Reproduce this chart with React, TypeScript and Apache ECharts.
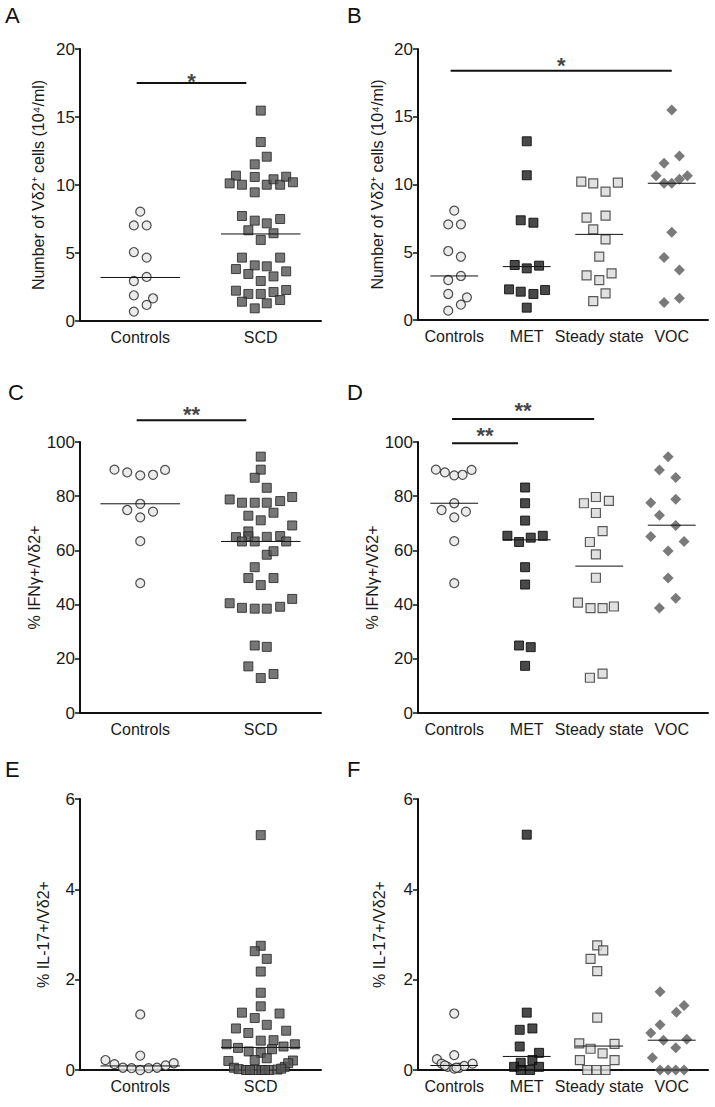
import React, { useEffect, useRef } from 'react';
import * as echarts from 'echarts';

// ---------- categories ----------
const catsTwo = ['Controls', 'SCD'];
const catsFour = ['Controls', 'MET', 'Steady state', 'VOC'];

// ---------- Panel A : number of Vδ2+ cells ----------
const aControls = [8.04, 7.03, 7.03, 5.07, 4.66, 3.24, 2.94, 1.89, 1.67, 1.18, 0.69];
const aControlsJit = [0, -0.053, 0.053, -0.053, 0.053, 0.053, -0.053, -0.053, 0.106, 0.053, -0.053];
const aSCD = [15.47, 13.16, 12.08, 11.52, 10.69, 10.12, 10.02, 10.59, 9.46, 10.02, 10.42, 10.02, 10.61, 10.2,
  7.72, 7.38, 7.18, 7.5, 6.67, 6.45, 5.96,
  4.66, 4.66, 4.09, 4.02, 3.82, 3.46, 2.94, 3.28, 3.65,
  2.23, 1.99, 1.99, 2.13, 2.28, 1.42, 0.93, 1.3, 1.54];
const aSCDJit = [0, 0, 0.05, -0.05, -0.206, -0.258, -0.156, -0.05, -0.05, 0.05, 0.106, 0.161, 0.211, 0.267,
  -0.156, -0.05, 0.05, 0.161, -0.103, 0.106, 0,
  -0.156, 0.161, -0.05, 0.05, -0.206, -0.103, 0, 0.106, 0.211,
  -0.206, -0.103, 0, 0.106, 0.211, -0.156, -0.05, 0.05, 0.161];
const aMedians = [3.2, 6.4];

// ---------- Panel B ----------
const bControls = [8.07, 7.06, 7.06, 5.09, 4.67, 3.25, 2.95, 1.92, 1.67, 1.13, 0.69];
const bControlsJit = [0, -0.083, 0.092, -0.083, 0.092, 0.092, -0.083, -0.083, 0.175, 0.092, -0.083];
const bMET = [13.19, 10.68, 7.36, 7.18, 4.06, 3.81, 4.01, 2.26, 2.09, 1.92, 2.21, 0.91];
const bMETJit = [0, 0, -0.083, 0.092, -0.166, 0, 0.17, -0.244, -0.083, 0.092, 0.253, 0];
const bSteady = [10.21, 10.09, 10.14, 9.47, 7.55, 7.7, 6.69, 5.95, 4.67, 3.3, 2.95, 3.44, 1.97, 1.4];
const bSteadyJit = [-0.248, -0.083, 0.257, 0.087, -0.175, 0.087, -0.083, 0.087, 0, -0.175, 0, 0.17, 0.087, -0.083];
const bVOC = [15.5, 11.56, 12.1, 10.65, 10.09, 10.09, 10.38, 10.65, 6.47, 4.62, 3.69, 1.3, 1.6];
const bVOCJit = [0, -0.106, 0.106, -0.216, -0.106, 0, 0.106, 0.216, 0, -0.106, 0.106, -0.106, 0.106];
const bMedians = [3.25, 3.94, 6.32, 10.09];

// ---------- Panel C : % IFNγ+ ----------
const cControls = [89.8, 88.8, 87.7, 87.9, 89.7, 77.2, 74.9, 74.3, 72.2, 63.4, 47.9];
const cControlsJit = [-0.214, -0.108, 0, 0.106, 0.206, 0, -0.108, 0.106, 0, 0, 0];
const cSCD = [94.6, 89.8, 86.8, 83.1,
  78.8, 77.6, 77.6, 77.6, 78.2, 79.7,
  72.8, 71.1, 73.9, 69.2,
  64.9, 67.0, 65.2, 63.3, 63.3, 65.0, 65.3, 63.3,
  58.4, 59.7,
  53.8, 49.8, 49.8, 47.2,
  40.5, 38.8, 38.5, 38.5, 39.2, 42.1,
  24.9, 24.4, 17.2, 12.9, 14.4];
const cSCDJit = [0, 0, -0.05, 0.05,
  -0.258, -0.156, -0.05, 0.05, 0.161, 0.261,
  -0.103, 0, 0.106, 0.261,
  -0.206, -0.103, -0.103, -0.156, -0.05, 0.05, 0.161, 0.211,
  0.05, 0.106,
  -0.05, -0.103, 0.106, 0,
  -0.258, -0.156, -0.05, 0.05, 0.161, 0.261,
  -0.05, 0.05, -0.103, 0, 0.106];
const cMedians = [77.2, 63.3];

// ---------- Panel D ----------
const dControls = [89.8, 88.8, 87.7, 87.9, 89.7, 77.4, 74.9, 74.3, 72.2, 63.4, 47.9];
const dControlsJit = [-0.253, -0.129, 0, 0.115, 0.239, 0, -0.175, 0.161, 0, 0, 0];
const dMET = [83.2, 77.4, 71.0, 65.4, 63.1, 64.7, 65.4, 53.8, 47.4, 24.9, 24.3, 17.4];
const dMETJit = [-0.023, -0.023, -0.023, -0.267, -0.106, 0.055, 0.221, -0.023, -0.023, -0.106, 0.055, -0.023];
const dSteady = [77.4, 79.7, 78.3, 73.8, 67.1, 63.1, 58.5, 49.9, 40.7, 38.7, 38.7, 39.3, 13.0, 14.5];
const dSteadyJit = [-0.211, -0.046, 0.133, -0.046, 0.046, -0.129, -0.046, -0.046, -0.294, -0.12, 0.046, 0.202, -0.129, 0.046];
const dVOC = [94.6, 89.7, 86.9, 77.6, 78.9, 73.0, 69.2, 65.1, 63.3, 59.8, 49.8, 42.3, 38.7];
const dVOCJit = [-0.05, -0.17, 0.055, -0.29, 0.055, -0.17, 0.055, -0.29, 0.17, -0.05, -0.05, 0.055, -0.17];
const dMedians = [77.4, 63.9, 54.2, 69.3];

// ---------- Panel E : % IL-17+ ----------
const eControls = [1.23, 0.32, 0.22, 0.13, 0.05, 0.04, 0.0, 0.04, 0.05, 0.1, 0.15];
const eControlsJit = [0, 0, -0.289, -0.214, -0.144, -0.072, 0, 0.069, 0.139, 0.211, 0.278];
const eSCD = [5.2, 2.75, 2.63, 2.46, 2.18, 1.71, 1.41, 1.27, 1.15, 1.25,
  0.92, 1.0, 0.82, 0.87, 0.65, 0.66,
  0.57, 0.49, 0.41, 0.38, 0.46, 0.52, 0.57,
  0.2, 0.22, 0.26, 0.21,
  0.05, 0.02, 0.0, 0.0, 0.0, 0.0, 0.01, 0.07, 0.15,
  0.0, 0.0, 0.03];
const eSCDJit = [0, 0, -0.05, 0.05, 0, 0, 0, -0.156, -0.05, 0.156,
  -0.206, 0.05, -0.103, 0.211, 0, 0.106,
  -0.283, -0.189, -0.1, 0, 0.094, 0.189, 0.283,
  -0.269, -0.05, 0.05, 0.267,
  -0.222, -0.183, -0.122, -0.05, 0.006, 0.067, 0.139, 0.2, 0.228,
  -0.09, 0.035, 0.17];
const eMedians = [0.09, 0.5];

// ---------- Panel F ----------
const fControls = [1.25, 0.33, 0.24, 0.14, 0.07, 0.03, 0.05, 0.09, 0.14, 0.1, 0.05];
const fControlsJit = [0, 0, -0.239, -0.175, -0.092, 0, 0.069, 0.138, 0.253, -0.129, 0.03];
const fMET = [5.21, 1.27, 0.89, 0.92, 0.52, 0.38, 0.16, 0.22, 0.07, 0.0, 0.0, 0.07];
const fMETJit = [0, 0, -0.097, 0.078, -0.097, 0.17, -0.083, 0.078, -0.175, -0.083, 0.046, 0.17];
const fSteady = [2.76, 2.65, 2.46, 2.19, 1.16, 0.59, 0.47, 0.58, 0.37, 0.22, 0.22, 0.0, 0.0, 0.0];
const fSteadyJit = [-0.028, 0.055, -0.12, -0.028, -0.028, -0.276, -0.12, 0.211, 0.046, -0.267, 0.211, -0.166, -0.037, 0.087];
const fVOC = [1.73, 1.43, 1.28, 1.0, 0.82, 0.66, 0.68, 0.49, 0.27, 0, 0, 0, 0];
const fVOCJit = [-0.161, 0.17, 0.064, -0.161, -0.29, -0.115, 0.207, 0.055, -0.267, -0.161, -0.05, 0.055, 0.17];
const fMedians = [0.1, 0.3, 0.53, 0.66];

// ---------- significance bars: [from, to, level, label] ----------
const aSig: [number, number, number, string][] = [[-0.03, 0.88, 17.5, '*']];
const bSig: [number, number, number, string][] = [[-0.05, 3.0, 18.4, '*']];
const cSig: [number, number, number, string][] = [[-0.03, 0.88, 108, '**']];
const dSig: [number, number, number, string][] = [[-0.03, 1.93, 108.5, '**'], [-0.03, 0.88, 99.5, '**']];

// ---------- styles ----------
const FONT = "'Liberation Sans', Arial, sans-serif";
const STYLES: Record<string, any> = {
  ctrl: { symbol: 'circle', symbolSize: 9, itemStyle: { color: '#e6e6e6', borderColor: '#222', borderWidth: 1.2 } },
  scd: { symbol: 'rect', symbolSize: 9, itemStyle: { color: '#555555', borderColor: '#222', borderWidth: 1 } },
  met: { symbol: 'rect', symbolSize: 9, itemStyle: { color: '#1c1c1c', borderColor: '#000', borderWidth: 1 } },
  steady: { symbol: 'rect', symbolSize: 9, itemStyle: { color: '#dadada', borderColor: '#333', borderWidth: 1.2 } },
  voc: { symbol: 'diamond', symbolSize: 11, itemStyle: { color: '#595959' } },
};

type Group = { values: number[]; jitter: number[]; style: string };
type Panel = {
  letter: string;
  letterPos: [number, number];
  cats: string[];
  groups: Group[];
  medians: number[];
  sig: [number, number, number, string][];
  starGap: number;
  yMax: number;
  yInterval: number;
  yName: string;
  nameGap: number;
  grid: { left: number; top: number; width: number; height: number };
};

const L = { left: 80, width: 241 };
const R = { left: 418, width: 290 };

const panels: Panel[] = [
  {
    letter: 'A', letterPos: [5, 4], cats: catsTwo,
    groups: [{ values: aControls, jitter: aControlsJit, style: 'ctrl' }, { values: aSCD, jitter: aSCDJit, style: 'scd' }],
    medians: aMedians, sig: aSig, starGap: 6, yMax: 20, yInterval: 5,
    yName: 'Number of Vδ2⁺ cells (10⁴/ml)', nameGap: 34,
    grid: { ...L, top: 49, height: 272 },
  },
  {
    letter: 'B', letterPos: [347, 4], cats: catsFour,
    groups: [
      { values: bControls, jitter: bControlsJit, style: 'ctrl' },
      { values: bMET, jitter: bMETJit, style: 'met' },
      { values: bSteady, jitter: bSteadyJit, style: 'steady' },
      { values: bVOC, jitter: bVOCJit, style: 'voc' },
    ],
    medians: bMedians, sig: bSig, starGap: 9, yMax: 20, yInterval: 5,
    yName: 'Number of Vδ2⁺ cells (10⁴/ml)', nameGap: 33,
    grid: { ...R, top: 49, height: 271 },
  },
  {
    letter: 'C', letterPos: [8, 381], cats: catsTwo,
    groups: [{ values: cControls, jitter: cControlsJit, style: 'ctrl' }, { values: cSCD, jitter: cSCDJit, style: 'scd' }],
    medians: cMedians, sig: cSig, starGap: 10, yMax: 100, yInterval: 20,
    yName: '% IFNγ+/Vδ2+', nameGap: 38,
    grid: { ...L, top: 442, height: 271 },
  },
  {
    letter: 'D', letterPos: [347, 381], cats: catsFour,
    groups: [
      { values: dControls, jitter: dControlsJit, style: 'ctrl' },
      { values: dMET, jitter: dMETJit, style: 'met' },
      { values: dSteady, jitter: dSteadyJit, style: 'steady' },
      { values: dVOC, jitter: dVOCJit, style: 'voc' },
    ],
    medians: dMedians, sig: dSig, starGap: 12, yMax: 100, yInterval: 20,
    yName: '% IFNγ+/Vδ2+', nameGap: 33,
    grid: { ...R, top: 442, height: 271 },
  },
  {
    letter: 'E', letterPos: [5, 758], cats: catsTwo,
    groups: [{ values: eControls, jitter: eControlsJit, style: 'ctrl' }, { values: eSCD, jitter: eSCDJit, style: 'scd' }],
    medians: eMedians, sig: [], starGap: 9, yMax: 6, yInterval: 2,
    yName: '% IL-17+/Vδ2+', nameGap: 29,
    grid: { ...L, top: 799, height: 271 },
  },
  {
    letter: 'F', letterPos: [347, 758], cats: catsFour,
    groups: [
      { values: fControls, jitter: fControlsJit, style: 'ctrl' },
      { values: fMET, jitter: fMETJit, style: 'met' },
      { values: fSteady, jitter: fSteadyJit, style: 'steady' },
      { values: fVOC, jitter: fVOCJit, style: 'voc' },
    ],
    medians: fMedians, sig: [], starGap: 9, yMax: 6, yInterval: 2,
    yName: '% IL-17+/Vδ2+', nameGap: 31,
    grid: { ...R, top: 799, height: 271 },
  },
];

const MEDIAN_HALF = 0.33;

function buildOption() {
  const grid: any[] = [];
  const xAxis: any[] = [];
  const yAxis: any[] = [];
  const series: any[] = [];
  const graphic: any[] = [];

  panels.forEach((p, i) => {
    grid.push({ ...p.grid, containLabel: false });
    // visible category axis
    xAxis.push({
      type: 'category', gridIndex: i, data: p.cats, boundaryGap: true,
      axisLine: { onZero: false, lineStyle: { color: '#111', width: 2 } },
      axisTick: { alignWithLabel: true, length: 5, lineStyle: { color: '#111', width: 1.5 } },
      axisLabel: { color: '#1a1a1a', fontSize: 16, fontFamily: FONT, margin: 8, interval: 0 },
      splitLine: { show: false },
      z: 2,
    });
    // hidden value axis for jittered positions
    xAxis.push({ type: 'value', gridIndex: i, min: -0.5, max: p.cats.length - 0.5, show: false, axisLine: { onZero: false } });
    yAxis.push({
      type: 'value', gridIndex: i, min: 0, max: p.yMax, interval: p.yInterval,
      name: p.yName, nameLocation: 'middle', nameGap: p.nameGap,
      nameTextStyle: { color: '#1a1a1a', fontSize: 16, fontFamily: FONT },
      axisLine: { show: true, onZero: false, lineStyle: { color: '#111', width: 2 } },
      axisTick: { show: true, length: 5, lineStyle: { color: '#111', width: 1.5 } },
      axisLabel: { color: '#1a1a1a', fontSize: 17, fontFamily: FONT, margin: 5 },
      splitLine: { show: false },
    });
    const xi = 2 * i + 1;
    p.groups.forEach((g, gi) => {
      series.push({
        type: 'scatter', xAxisIndex: xi, yAxisIndex: i, clip: false, z: 3,
        ...STYLES[g.style],
        data: g.values.map((v, k) => [gi + g.jitter[k], v]),
      });
      series.push({
        type: 'line', xAxisIndex: xi, yAxisIndex: i, symbol: 'none', z: 4, clip: false,
        lineStyle: { color: '#111', width: 1 },
        data: [[gi - MEDIAN_HALF, p.medians[gi]], [gi + MEDIAN_HALF, p.medians[gi]]],
      });
    });
    p.sig.forEach(([x0, x1, lvl, lab]) => {
      series.push({
        type: 'line', xAxisIndex: xi, yAxisIndex: i, symbol: 'none', clip: false, z: 4,
        lineStyle: { color: '#111', width: 2 },
        data: [[x0, lvl], [x1, lvl]],
      });
      series.push({
        type: 'scatter', xAxisIndex: xi, yAxisIndex: i, clip: false, z: 5,
        symbol: 'circle', symbolSize: 1, itemStyle: { color: 'rgba(0,0,0,0)' },
        label: {
          show: true, position: 'inside', formatter: lab, color: '#111',
          fontSize: 22, fontWeight: 'bold', fontFamily: FONT,
          offset: [0, -p.starGap + 4],
        },
        data: [[(x0 + x1) / 2, lvl]],
      });
    });
    graphic.push({
      type: 'text', left: p.letterPos[0], top: p.letterPos[1],
      style: { text: p.letter, fontSize: 22, fontFamily: FONT, fill: '#111' },
    });
  });

  return {
    animation: false,
    backgroundColor: '#ffffff',
    grid, xAxis, yAxis, series, graphic,
  };
}

export default function App() {
  const ref = useRef<HTMLDivElement>(null);
  useEffect(() => {
    if (!ref.current) return;
    const chart = echarts.init(ref.current, undefined, { renderer: 'svg' });
    chart.setOption(buildOption() as any);
    return () => chart.dispose();
  }, []);
  return (
    <div
      ref={ref}
      style={{ position: 'fixed', left: 0, top: 0, width: 715, height: 1107, background: '#fff' }}
    />
  );
}
